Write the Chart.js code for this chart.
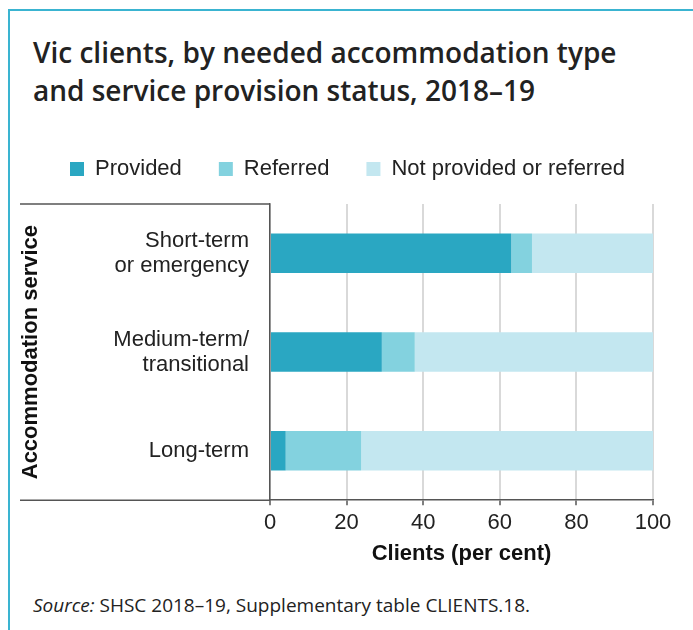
<!DOCTYPE html>
<html lang="en">
<head>
    <meta charset="UTF-8">
    <title>Vic clients by needed accommodation type</title>
    <script src="https://cdn.jsdelivr.net/npm/chart.js"></script>
    <style>
        body { margin: 0; padding: 0; background: #fff; width: 693px; height: 630px; overflow: hidden; position: relative; }
        #frame {
            position: absolute; left: 8px; top: 9px; width: 720px; height: 660px;
            border-left: 2px solid #3ab4d1; border-top: 2px solid #3ab4d1;
        }
        #title {
            position: absolute; left: 33px; top: 33px;
            font-family: "Open Sans", sans-serif; font-weight: 600;
            font-size: 28px; line-height: 38px; color: #222;
        }
        #source {
            position: absolute; left: 33px; top: 593px;
            font-family: "Open Sans", sans-serif; font-size: 19px; line-height: 24px; color: #222;
        }
        #chart-box { position: absolute; left: 0; top: 110px; width: 693px; height: 461px; }
    </style>
</head>
<body>
<div id="frame"></div>
<div id="title">Vic clients, by needed accommodation type<br>and service provision status, 2018–19</div>
<div id="chart-box"><canvas id="chart"></canvas></div>
<div id="source"><i>Source:</i> SHSC 2018–19, Supplementary table CLIENTS.18.</div>

<script>
    // data (per cent of clients)
    const categories = [['Short-term', 'or emergency'], ['Medium-term/', 'transitional'], ['Long-term']];
    const provided = [63.0, 29.2, 4.1];
    const referred = [5.4, 8.6, 19.7];
    const notProvided = [31.6, 62.2, 76.2];
    const xTicks = [0, 20, 40, 60, 80, 100];

    const labelFont = { family: 'Liberation Sans, Arial, sans-serif', size: 22 };
    const boldFont = { family: 'Liberation Sans, Arial, sans-serif', size: 22, weight: 'bold', lineHeight: 1 };

    // keep the legend on one row, leave room below it, centre it on the page
    const legendGap = {
        id: 'legendGap',
        beforeInit(chart) {
            const fit = chart.legend.fit;
            chart.legend.fit = function () {
                this.maxWidth = chart.width;
                fit.call(this);
                this.height += 14;
            };
        },
        beforeDraw(chart) {
            chart.legend.left = 2;
            chart.legend.right = chart.width;
        }
    };

    // the header/footer rules running left of the y axis
    const sideRules = {
        id: 'sideRules',
        afterDraw(chart) {
            const { ctx, chartArea } = chart;
            const start = chart.scales.y.left;
            ctx.save();
            ctx.strokeStyle = '#555';
            ctx.lineWidth = 1.5;
            ctx.beginPath();
            ctx.moveTo(start, chartArea.top);
            ctx.lineTo(chartArea.left, chartArea.top);
            ctx.moveTo(start, chartArea.bottom);
            ctx.lineTo(chartArea.left, chartArea.bottom);
            ctx.stroke();
            ctx.restore();
        }
    };

    new Chart(document.getElementById('chart'), {
        type: 'bar',
        data: {
            labels: categories,
            datasets: [
                { label: 'Provided', data: provided, backgroundColor: '#2aa7c2' },
                { label: 'Referred', data: referred, backgroundColor: '#83d2df' },
                { label: 'Not provided or referred', data: notProvided, backgroundColor: '#c3e7f0' }
            ]
        },
        options: {
            indexAxis: 'y',
            responsive: true,
            maintainAspectRatio: false,
            animation: false,
            categoryPercentage: 1,
            barPercentage: 0.4,
            layout: { padding: { left: 20, right: 40, top: 11, bottom: 4 } },
            plugins: {
                legend: {
                    position: 'top',
                    labels: {
                        boxWidth: 14, boxHeight: 14, padding: 37,
                        color: '#222', font: labelFont
                    }
                },
                tooltip: { enabled: false }
            },
            scales: {
                x: {
                    stacked: true,
                    min: 0, max: 100,
                    afterBuildTicks(scale) { scale.ticks = xTicks.map(v => ({ value: v })); },
                    grid: { color: '#d9d9d9', lineWidth: 2, tickColor: '#555', tickLength: 5, tickWidth: 1.5 },
                    border: { display: true, color: '#555', width: 1.5 },
                    ticks: { color: '#222', font: labelFont, padding: 5, maxRotation: 0 },
                    title: {
                        display: true, text: 'Clients (per cent)', color: '#111',
                        font: { ...boldFont, lineHeight: 1.2 },
                        padding: { top: -1, bottom: 0 }
                    }
                },
                y: {
                    stacked: true,
                    afterFit(scale) { scale.width = 250; },
                    grid: { display: false, drawTicks: false },
                    border: { display: true, color: '#555', width: 1.5 },
                    ticks: { color: '#222', font: { ...labelFont, lineHeight: 1.15 }, padding: 21 },
                    title: {
                        display: true, text: 'Accommodation service', color: '#111',
                        font: boldFont,
                        padding: { top: 0, bottom: 0 }
                    }
                }
            }
        },
        plugins: [legendGap, sideRules]
    });
</script>
</body>
</html>
